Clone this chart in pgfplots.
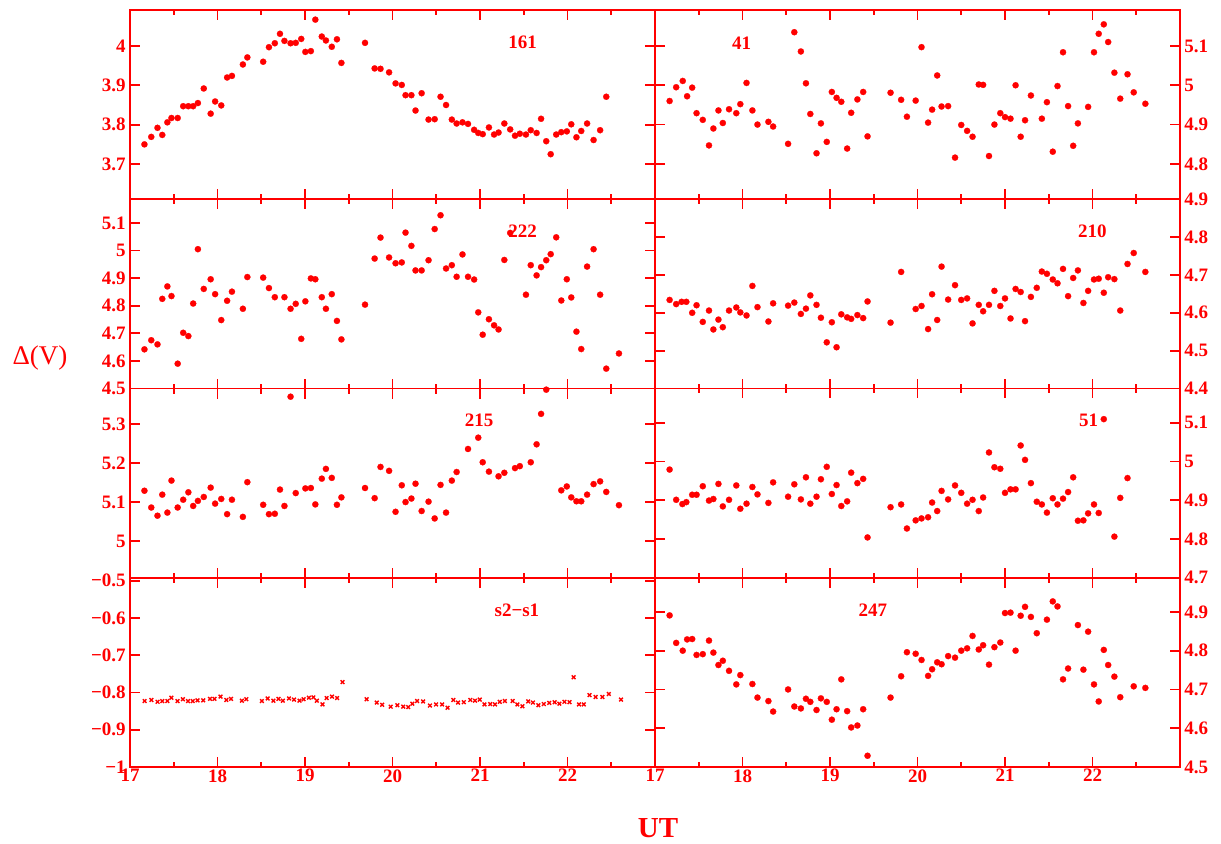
\documentclass[border=0pt]{standalone}
\usepackage{fontspec}
\setmainfont{Liberation Serif}
\usepackage{pgfplots}
\pgfplotsset{compat=1.18}
\tikzset{lbl/.style={red, font=\bfseries\fontsize{9.5}{10}\selectfont}}
\begin{document}
\begin{tikzpicture}
\useasboundingbox (0pt,0pt) rectangle (610.5pt,421.5pt);
\pgfplotsset{
 panel/.style={scale only axis, width=262.5pt, height=94.625pt, xmin=17, xmax=23,
   xtick={17,18,19,20,21,22,23}, minor x tick num=1, xticklabels={},
   axis line style={red,line width=0.9pt}, every tick/.style={red,line width=0.9pt},
   major tick length=5pt, minor tick length=2.5pt, tick align=inside,
   /pgf/number format/assume math mode=true,
   tick label style={red, font=\bfseries\fontsize{9.5}{10}\selectfont},
   xticklabel style={inner sep=1pt},
   yticklabel style={inner sep=2pt},
   anchor=south west},
 leftp/.style={panel, yticklabel pos=left, ytick pos=both, xtick pos=both},
 rightp/.style={panel, yticklabel pos=right, ytick pos=both, xtick pos=both},
 pts/.style={only marks, mark=*, mark size=1.55pt, red, mark options={fill=red, draw=red, line width=0.1pt}},
}
% ---------- Row 1 left: 161
\begin{axis}[leftp, at={(65pt,321.875pt)}, ymin=3.6105, ymax=4.0915, ytick={3.7,3.8,3.9,4.0}]
\addplot[pts] coordinates {(17.165,3.750)(17.243,3.769)(17.314,3.792)(17.369,3.774)(17.427,3.806)(17.474,3.817)(17.545,3.817)(17.608,3.847)(17.667,3.847)(17.722,3.847)(17.776,3.855)(17.843,3.892)(17.922,3.828)(17.973,3.859)(18.043,3.849)(18.110,3.920)(18.165,3.924)(18.290,3.953)(18.341,3.971)(18.522,3.960)(18.588,3.997)(18.655,4.007)(18.714,4.031)(18.765,4.013)(18.835,4.007)(18.894,4.008)(18.957,4.018)(19.004,3.985)(19.067,3.987)(19.118,4.067)(19.192,4.024)(19.239,4.014)(19.306,3.998)(19.365,4.017)(19.416,3.957)(19.686,4.008)(19.796,3.943)(19.863,3.942)(19.961,3.933)(20.035,3.905)(20.106,3.901)(20.149,3.875)(20.216,3.875)(20.263,3.836)(20.333,3.880)(20.412,3.813)(20.482,3.814)(20.549,3.871)(20.612,3.850)(20.678,3.813)(20.733,3.803)(20.800,3.806)(20.863,3.802)(20.933,3.787)(20.980,3.779)(21.031,3.776)(21.102,3.793)(21.161,3.775)(21.212,3.780)(21.278,3.803)(21.345,3.788)(21.400,3.772)(21.455,3.777)(21.525,3.775)(21.580,3.786)(21.647,3.779)(21.698,3.815)(21.757,3.758)(21.808,3.725)(21.871,3.775)(21.929,3.781)(21.992,3.783)(22.043,3.801)(22.102,3.768)(22.157,3.784)(22.224,3.803)(22.298,3.761)(22.373,3.786)(22.443,3.871)};
\node[lbl] at (rel axis cs:0.748,0.827) {161};
\end{axis}
% ---------- Row 1 right: 41
\begin{axis}[rightp, at={(327.5pt,321.875pt)}, ymin=4.71, ymax=5.1915, ytick={4.8,4.9,5.0,5.1}]
\addplot[pts] coordinates {(17.167,4.960)(17.242,4.995)(17.317,5.011)(17.367,4.972)(17.425,4.994)(17.475,4.929)(17.546,4.912)(17.617,4.847)(17.667,4.890)(17.725,4.936)(17.775,4.904)(17.846,4.939)(17.929,4.929)(17.975,4.952)(18.046,5.006)(18.113,4.936)(18.171,4.900)(18.296,4.907)(18.350,4.895)(18.521,4.851)(18.592,5.135)(18.667,5.086)(18.725,5.005)(18.775,4.927)(18.846,4.827)(18.896,4.903)(18.963,4.856)(19.021,4.983)(19.075,4.968)(19.129,4.958)(19.196,4.839)(19.242,4.930)(19.313,4.964)(19.379,4.983)(19.429,4.870)(19.692,4.981)(19.813,4.963)(19.879,4.920)(19.979,4.961)(20.046,5.097)(20.121,4.905)(20.167,4.938)(20.225,5.025)(20.275,4.946)(20.350,4.947)(20.429,4.816)(20.500,4.899)(20.567,4.884)(20.629,4.869)(20.700,5.002)(20.750,5.001)(20.817,4.820)(20.879,4.900)(20.946,4.929)(21.000,4.919)(21.063,4.915)(21.121,5.000)(21.179,4.869)(21.229,4.911)(21.296,4.974)(21.421,4.915)(21.479,4.957)(21.546,4.831)(21.600,4.998)(21.663,5.084)(21.721,4.947)(21.779,4.846)(21.833,4.903)(21.950,4.945)(22.017,5.084)(22.071,5.131)(22.129,5.155)(22.179,5.110)(22.250,5.032)(22.317,4.966)(22.400,5.028)(22.471,4.982)(22.604,4.953)};
\node[lbl] at (rel axis cs:0.165,0.827) {41};
\end{axis}
% ---------- Row 2 left: 222
\begin{axis}[leftp, at={(65pt,227.25pt)}, ymin=4.5, ymax=5.186, ytick={4.5,4.6,4.7,4.8,4.9,5.0,5.1}]
\addplot[pts] coordinates {(17.165,4.642)(17.243,4.675)(17.314,4.660)(17.369,4.825)(17.427,4.870)(17.474,4.835)(17.545,4.590)(17.608,4.702)(17.667,4.690)(17.722,4.808)(17.776,5.005)(17.843,4.861)(17.922,4.896)(17.973,4.842)(18.043,4.748)(18.110,4.818)(18.165,4.851)(18.290,4.789)(18.341,4.904)(18.522,4.902)(18.588,4.864)(18.655,4.831)(18.765,4.831)(18.835,4.789)(18.894,4.807)(18.957,4.680)(19.004,4.816)(19.067,4.899)(19.118,4.896)(19.192,4.831)(19.239,4.789)(19.306,4.842)(19.365,4.745)(19.416,4.678)(19.686,4.804)(19.796,4.971)(19.863,5.047)(19.961,4.975)(20.035,4.954)(20.106,4.957)(20.149,5.065)(20.216,5.017)(20.263,4.928)(20.333,4.928)(20.412,4.965)(20.482,5.078)(20.549,5.128)(20.612,4.935)(20.678,4.947)(20.733,4.905)(20.800,4.986)(20.863,4.905)(20.933,4.895)(20.980,4.776)(21.031,4.695)(21.102,4.751)(21.161,4.729)(21.212,4.714)(21.278,4.966)(21.345,5.064)(21.525,4.840)(21.580,4.947)(21.647,4.910)(21.698,4.940)(21.757,4.965)(21.808,4.987)(21.871,5.048)(21.929,4.819)(21.992,4.896)(22.043,4.830)(22.102,4.706)(22.157,4.643)(22.224,4.942)(22.298,5.005)(22.373,4.840)(22.443,4.572)(22.588,4.627)};
\node[lbl] at (rel axis cs:0.748,0.832) {222};
\end{axis}
% ---------- Row 2 right: 210
\begin{axis}[rightp, at={(327.5pt,227.25pt)}, ymin=4.4, ymax=4.9, ytick={4.4,4.5,4.6,4.7,4.8,4.9}]
\addplot[pts] coordinates {(17.167,4.634)(17.242,4.623)(17.304,4.629)(17.358,4.629)(17.425,4.600)(17.475,4.620)(17.546,4.576)(17.617,4.606)(17.667,4.556)(17.725,4.582)(17.775,4.562)(17.846,4.606)(17.929,4.614)(17.975,4.601)(18.046,4.593)(18.113,4.671)(18.171,4.615)(18.296,4.577)(18.350,4.625)(18.521,4.619)(18.592,4.627)(18.667,4.597)(18.725,4.611)(18.775,4.646)(18.846,4.621)(18.896,4.587)(18.963,4.522)(19.021,4.575)(19.075,4.509)(19.129,4.596)(19.196,4.588)(19.242,4.584)(19.313,4.594)(19.379,4.586)(19.429,4.630)(19.692,4.574)(19.813,4.708)(19.979,4.610)(20.046,4.618)(20.121,4.557)(20.167,4.649)(20.225,4.581)(20.275,4.722)(20.350,4.635)(20.429,4.673)(20.500,4.634)(20.567,4.638)(20.629,4.572)(20.700,4.621)(20.750,4.604)(20.817,4.621)(20.879,4.658)(20.946,4.618)(21.000,4.638)(21.063,4.585)(21.121,4.663)(21.179,4.655)(21.229,4.578)(21.296,4.642)(21.363,4.666)(21.421,4.709)(21.479,4.703)(21.546,4.688)(21.600,4.678)(21.663,4.716)(21.721,4.644)(21.779,4.692)(21.833,4.712)(21.896,4.626)(21.950,4.658)(22.017,4.688)(22.071,4.690)(22.129,4.653)(22.179,4.694)(22.250,4.689)(22.317,4.606)(22.400,4.729)(22.471,4.758)(22.604,4.708)};
\node[lbl] at (rel axis cs:0.833,0.832) {210};
\end{axis}
% ---------- Row 3 left: 215
\begin{axis}[leftp, at={(65pt,132.625pt)}, ymin=4.906, ymax=5.391, ytick={5.0,5.1,5.2,5.3}]
\addplot[pts] coordinates {(17.165,5.129)(17.243,5.086)(17.314,5.065)(17.369,5.119)(17.427,5.073)(17.474,5.155)(17.545,5.086)(17.608,5.106)(17.667,5.125)(17.722,5.090)(17.776,5.103)(17.843,5.113)(17.922,5.137)(17.973,5.096)(18.043,5.108)(18.110,5.069)(18.165,5.106)(18.290,5.062)(18.341,5.151)(18.522,5.093)(18.588,5.069)(18.655,5.070)(18.714,5.132)(18.765,5.090)(18.835,5.370)(18.894,5.123)(19.004,5.135)(19.067,5.136)(19.118,5.094)(19.192,5.160)(19.239,5.185)(19.306,5.162)(19.365,5.093)(19.416,5.112)(19.686,5.136)(19.796,5.110)(19.863,5.190)(19.961,5.180)(20.035,5.075)(20.106,5.143)(20.149,5.100)(20.216,5.109)(20.263,5.147)(20.333,5.077)(20.412,5.101)(20.482,5.058)(20.549,5.144)(20.612,5.073)(20.678,5.155)(20.733,5.177)(20.863,5.236)(20.980,5.265)(21.031,5.202)(21.102,5.178)(21.212,5.166)(21.278,5.175)(21.400,5.187)(21.455,5.192)(21.580,5.202)(21.647,5.248)(21.698,5.326)(21.757,5.388)(21.929,5.130)(21.992,5.140)(22.043,5.112)(22.102,5.102)(22.157,5.102)(22.224,5.119)(22.298,5.146)(22.373,5.153)(22.443,5.126)(22.588,5.092)};
\node[lbl] at (rel axis cs:0.665,0.83) {215};
\end{axis}
% ---------- Row 3 right: 51
\begin{axis}[rightp, at={(327.5pt,132.625pt)}, ymin=4.7, ymax=5.188, ytick={4.7,4.8,4.9,5.0,5.1}]
\addplot[pts] coordinates {(17.167,4.979)(17.242,4.901)(17.313,4.890)(17.358,4.895)(17.425,4.914)(17.475,4.914)(17.546,4.936)(17.617,4.899)(17.667,4.903)(17.725,4.942)(17.775,4.884)(17.846,4.901)(17.929,4.938)(17.975,4.878)(18.046,4.891)(18.113,4.934)(18.171,4.915)(18.296,4.893)(18.350,4.946)(18.521,4.909)(18.592,4.941)(18.667,4.902)(18.725,4.959)(18.775,4.891)(18.846,4.909)(18.896,4.954)(18.963,4.986)(19.021,4.916)(19.075,4.939)(19.129,4.885)(19.196,4.897)(19.242,4.971)(19.313,4.944)(19.379,4.955)(19.429,4.804)(19.692,4.882)(19.813,4.889)(19.879,4.827)(19.979,4.848)(20.046,4.853)(20.121,4.856)(20.167,4.894)(20.225,4.872)(20.275,4.924)(20.350,4.902)(20.429,4.938)(20.500,4.919)(20.567,4.891)(20.629,4.901)(20.700,4.872)(20.750,4.907)(20.817,5.023)(20.879,4.985)(20.946,4.981)(21.000,4.919)(21.063,4.928)(21.121,4.928)(21.179,5.041)(21.229,5.004)(21.296,4.944)(21.363,4.896)(21.421,4.889)(21.479,4.868)(21.546,4.905)(21.600,4.889)(21.663,4.904)(21.721,4.921)(21.779,4.959)(21.833,4.847)(21.896,4.848)(21.950,4.866)(22.017,4.889)(22.071,4.867)(22.129,5.109)(22.250,4.806)(22.317,4.906)(22.400,4.957)};
\node[lbl] at (rel axis cs:0.826,0.83) {51};
\end{axis}
% ---------- Row 4 left: s2-s1
\begin{axis}[leftp, at={(65pt,38pt)}, ymin=-1, ymax=-0.492, ytick={-1,-0.9,-0.8,-0.7,-0.6,-0.5},
  yticklabels={−1,−0.9,−0.8,−0.7,−0.6,−0.5}, xticklabels={17,18,19,20,21,22,{}}]
\addplot[only marks, mark=x, mark size=1.3pt, red, mark options={line width=0.7pt}] coordinates {(17.167,-0.823)(17.245,-0.820)(17.315,-0.825)(17.369,-0.823)(17.427,-0.823)(17.473,-0.814)(17.543,-0.823)(17.605,-0.818)(17.663,-0.823)(17.717,-0.823)(17.772,-0.821)(17.837,-0.821)(17.915,-0.817)(17.965,-0.817)(18.035,-0.811)(18.101,-0.820)(18.155,-0.817)(18.279,-0.822)(18.329,-0.818)(18.507,-0.823)(18.573,-0.816)(18.639,-0.822)(18.697,-0.817)(18.747,-0.822)(18.817,-0.816)(18.875,-0.819)(18.937,-0.822)(18.984,-0.818)(19.045,-0.814)(19.096,-0.813)(19.135,-0.822)(19.200,-0.832)(19.247,-0.815)(19.309,-0.811)(19.367,-0.815)(19.429,-0.772)(19.704,-0.818)(19.820,-0.827)(19.882,-0.833)(19.979,-0.838)(20.056,-0.834)(20.122,-0.838)(20.180,-0.839)(20.227,-0.830)(20.281,-0.823)(20.350,-0.824)(20.428,-0.835)(20.498,-0.832)(20.567,-0.832)(20.629,-0.841)(20.695,-0.820)(20.749,-0.827)(20.815,-0.826)(20.889,-0.820)(20.943,-0.822)(20.997,-0.819)(21.051,-0.832)(21.117,-0.831)(21.171,-0.832)(21.226,-0.825)(21.284,-0.823)(21.373,-0.823)(21.427,-0.832)(21.485,-0.837)(21.551,-0.824)(21.605,-0.827)(21.667,-0.834)(21.729,-0.831)(21.791,-0.828)(21.853,-0.826)(21.907,-0.830)(21.965,-0.825)(22.023,-0.826)(22.070,-0.759)(22.132,-0.832)(22.186,-0.832)(22.252,-0.807)(22.321,-0.812)(22.399,-0.812)(22.472,-0.804)(22.612,-0.819)};
\node[lbl] at (rel axis cs:0.737,0.83) {s2−s1};
\end{axis}
% ---------- Row 4 right: 247
\begin{axis}[rightp, at={(327.5pt,38pt)}, ymin=4.5, ymax=4.988, ytick={4.5,4.6,4.7,4.8,4.9},
  xticklabels={17,18,19,20,21,22,{}}]
\addplot[pts] coordinates {(17.167,4.891)(17.242,4.820)(17.317,4.800)(17.367,4.829)(17.425,4.830)(17.475,4.789)(17.546,4.791)(17.617,4.826)(17.667,4.795)(17.725,4.763)(17.775,4.774)(17.846,4.748)(17.929,4.713)(17.975,4.737)(18.113,4.714)(18.171,4.679)(18.296,4.670)(18.350,4.643)(18.521,4.700)(18.592,4.656)(18.667,4.651)(18.725,4.676)(18.775,4.668)(18.846,4.647)(18.896,4.677)(18.963,4.668)(19.021,4.622)(19.075,4.649)(19.129,4.726)(19.196,4.644)(19.242,4.602)(19.313,4.607)(19.379,4.649)(19.429,4.529)(19.692,4.679)(19.813,4.734)(19.879,4.796)(19.979,4.792)(20.046,4.776)(20.121,4.735)(20.167,4.752)(20.225,4.770)(20.275,4.765)(20.350,4.786)(20.429,4.782)(20.500,4.800)(20.567,4.806)(20.629,4.838)(20.700,4.803)(20.750,4.814)(20.817,4.764)(20.879,4.809)(20.946,4.821)(21.000,4.897)(21.063,4.898)(21.121,4.800)(21.179,4.890)(21.229,4.913)(21.296,4.887)(21.363,4.845)(21.479,4.880)(21.546,4.927)(21.600,4.914)(21.663,4.726)(21.721,4.754)(21.833,4.866)(21.896,4.751)(21.950,4.849)(22.017,4.713)(22.071,4.669)(22.129,4.802)(22.179,4.763)(22.250,4.733)(22.317,4.680)(22.471,4.708)(22.604,4.704)};
\node[lbl] at (rel axis cs:0.415,0.83) {247};
\end{axis}
\node[red, font=\fontsize{13.5}{15}\selectfont] at (20pt,242.5pt) {Δ(V)};
\node[red, font=\bfseries\fontsize{14.5}{16}\selectfont] at (329pt,7.5pt) {UT};
\end{tikzpicture}
\end{document}
